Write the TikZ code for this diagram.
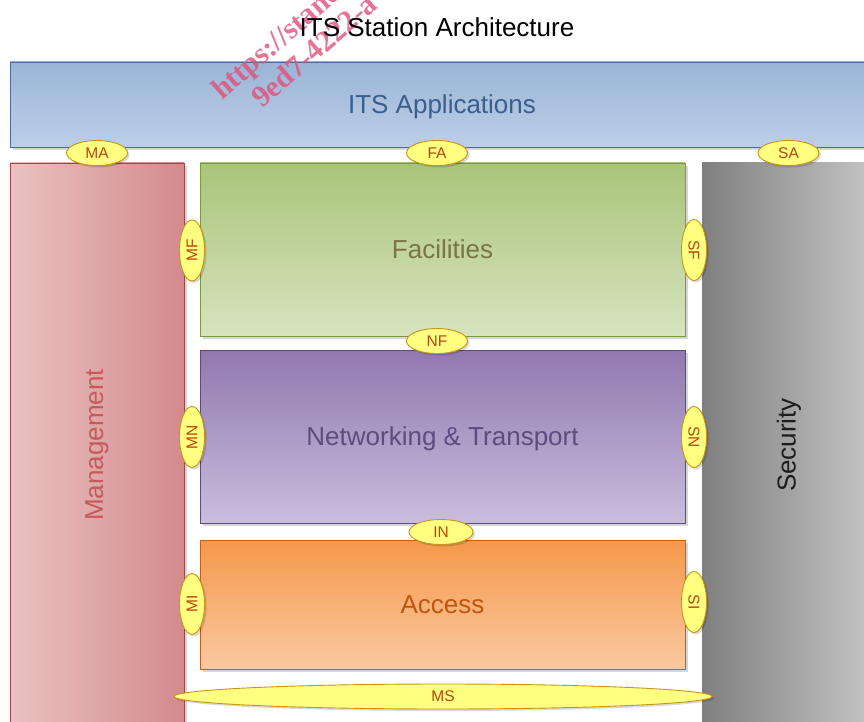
\documentclass[tikz,border=0pt]{standalone}
\usepackage{fontspec}
\setmainfont{Liberation Sans}
\newfontfamily\wmfont{Liberation Serif}
\usetikzlibrary{shapes.geometric,shadows}

\definecolor{appstop}{HTML}{9BB4D7}
\definecolor{appsbot}{HTML}{BCCFE8}
\definecolor{appsline}{HTML}{4A6A9A}
\definecolor{appstext}{HTML}{3B5E8C}
\definecolor{mgmtleft}{HTML}{E9C2C2}
\definecolor{mgmtright}{HTML}{D48A8C}
\definecolor{mgmtline}{HTML}{A04545}
\definecolor{mgmttext}{HTML}{C55A5A}
\definecolor{factop}{HTML}{A9C47A}
\definecolor{facbot}{HTML}{D7E4BE}
\definecolor{facline}{HTML}{7A9A40}
\definecolor{factext}{HTML}{7A7447}
\definecolor{nettop}{HTML}{9178AF}
\definecolor{netbot}{HTML}{C9BDDD}
\definecolor{netline}{HTML}{5E4B7E}
\definecolor{nettext}{HTML}{5F4B80}
\definecolor{acctop}{HTML}{F5984A}
\definecolor{accbot}{HTML}{FAC9A2}
\definecolor{accline}{HTML}{C0601C}
\definecolor{acctext}{HTML}{C0560F}
\definecolor{secleft}{HTML}{7F7F7F}
\definecolor{secright}{HTML}{C6C6C6}
\definecolor{sectext}{HTML}{1C1C1C}
\definecolor{sapfill}{HTML}{FFFF80}
\definecolor{sapline}{HTML}{C8941A}
\definecolor{saptext}{HTML}{B8460F}
\definecolor{wmpink}{HTML}{E0507A}

\begin{document}
\begin{tikzpicture}[x=1pt,y=-1pt,
  layer/.style={draw, rectangle, inner sep=0pt, line width=0.9pt, text depth=0pt,
    font=\fontsize{26}{30}\selectfont,
    drop shadow={shadow xshift=3pt, shadow yshift=-3pt, fill=black, opacity=0.16}},
  sap/.style={ellipse, draw=sapline, fill=sapfill, line width=0.9pt, inner sep=0pt,
    text=saptext, font=\fontsize{15.5}{15.5}\selectfont,
    drop shadow={shadow xshift=2pt, shadow yshift=-2pt, fill=black, opacity=0.15}},
  saph/.style={sap, minimum width=61pt, minimum height=25pt},
  sapv/.style={sap, minimum width=25pt, minimum height=61pt},
  wm/.style={text=wmpink, opacity=0.8, inner sep=0pt,
    font=\wmfont\bfseries\fontsize{30}{30}\selectfont, rotate=41, anchor=base west}
]
\useasboundingbox (0,0) rectangle (864,722);
\clip (0,0) rectangle (864,722);
\fill[white] (0,0) rectangle (864,722);

% layers of the station
\node[layer, minimum width=864pt, minimum height=85pt, top color=appstop,
  bottom color=appsbot, draw=appsline, text=appstext] (apps) at (442,104.5) {ITS Applications};
\node[layer, minimum width=174pt, minimum height=564pt, left color=mgmtleft,
  right color=mgmtright, draw=mgmtline, text=mgmttext] (mgmt) at (97,445) {\rotatebox{90}{Management}};
\node[layer, minimum width=174pt, minimum height=564pt, left color=secleft,
  right color=secright, draw=none, text=sectext] (sec) at (789,445) {\rotatebox{90}{Security}};
\node[layer, minimum width=485pt, minimum height=173pt, top color=factop,
  bottom color=facbot, draw=facline, text=factext] (fac) at (442.5,249.5) {Facilities};
\node[layer, minimum width=485pt, minimum height=173pt, top color=nettop,
  bottom color=netbot, draw=netline, text=nettext] (net) at (442.5,436.5) {Networking \& Transport};
\node[layer, minimum width=485pt, minimum height=129pt, top color=acctop,
  bottom color=accbot, draw=accline, text=acctext] (acc) at (442.5,604.5) {Access};

% service access points
\node[saph] (MA) at (97,153) {MA};
\node[saph] (FA) at (437,153) {FA};
\node[saph] (SA) at (788.5,153) {SA};
\node[saph] (NF) at (437,341) {NF};
\node[saph, minimum width=64pt] (IN) at (441,532) {IN};
\node[sapv] (MF) at (192,250.5) {\rotatebox{90}{MF}};
\node[sapv] (MN) at (192,437) {\rotatebox{90}{MN}};
\node[sapv] (MI) at (192,604) {\rotatebox{90}{MI}};
\node[sapv] (SF) at (694,250) {\rotatebox{-90}{SF}};
\node[sapv] (SN) at (694,437) {\rotatebox{-90}{SN}};
\node[sapv] (SI) at (694,602) {\rotatebox{-90}{SI}};
\node[sap, minimum width=538pt, minimum height=25pt] (MS) at (443,696.5) {MS};

% stamp
\node[wm] (wmA) at (222,101) {https://standards};
\node[wm] (wmB) at (262,109) {9ed7-4222-a};

% title
\node[font=\fontsize{26}{30}\selectfont, inner sep=0pt] (title) at (437,27) {ITS Station Architecture};
\end{tikzpicture}
\end{document}
